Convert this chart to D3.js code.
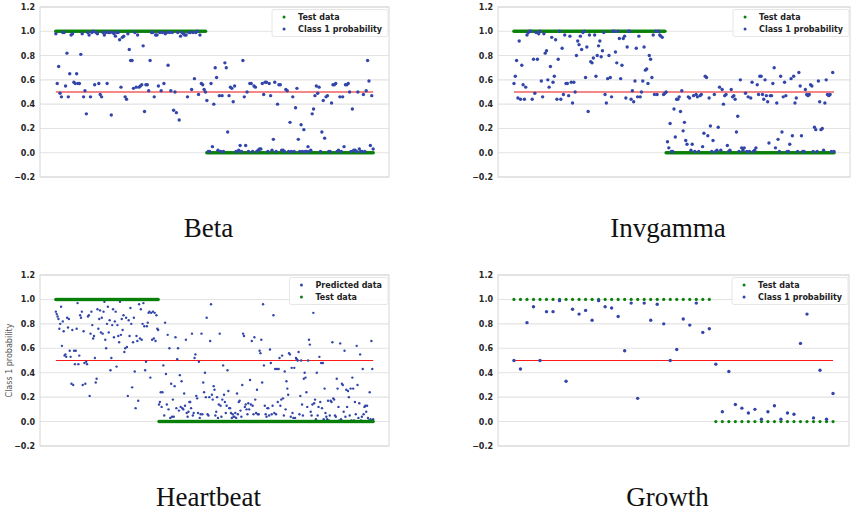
<!DOCTYPE html>
<html>
<head>
<meta charset="utf-8">
<script src="https://cdn.jsdelivr.net/npm/d3@7"></script>
<style>body{margin:0;background:#fff}</style>
</head>
<body>
<script>
// Class 1 probabilities, split into the points whose test label is 1 and those whose label is 0
const betaProb1 = [0.98,0.57,0.71,0.49,0.46,0.99,0.99,0.55,0.82,0.46,0.65,0.97,0.98,0.58,0.57,0.65,0.57,0.57,0.81,0.98,
  0.46,0.51,0.32,0.99,0.97,0.46,0.99,1.0,0.56,0.99,0.98,0.57,0.48,0.46,0.99,0.97,0.99,0.57,0.99,0.99,
  0.31,0.99,0.98,0.96,0.99,0.99,0.93,0.54,0.95,0.96,0.46,0.44,0.98,0.85,0.76,0.76,0.53,0.99,0.54,0.97,
  0.54,0.55,0.56,0.88,0.34,0.56,0.56,0.51,0.76,0.99,0.99,0.46,0.97,0.97,0.55,0.99,0.51,0.99,0.57,0.98,
  0.99,0.72,0.99,0.51,0.99,0.35,0.5,0.33,0.99,0.27,0.96,0.99,0.98,0.97,0.97,0.46,0.99,0.99,0.52,0.99,
  0.61,0.99,1.0,0.48,0.97,0.57,0.56,0.52,0.5];
const betaProb0 = [0.43,0.01,0.01,0.57,0.05,0.40,0.70,0.62,0.02,0.47,0.01,0.47,0.01,0.74,0.70,0.17,0.47,0.54,0.53,0.42,
  0.55,0.01,0.01,0.02,0.06,0.01,0.76,0.46,0.06,0.50,0.01,0.57,0.57,0.01,0.55,0.54,0.01,0.02,0.03,0.03,
  0.57,0.48,0.58,0.58,0.01,0.57,0.47,0.02,0.11,0.58,0.01,0.4,0.56,0.56,0.02,0.02,0.01,0.52,0.51,0.01,
  0.25,0.01,0.46,0.01,0.37,0.53,0.11,0.01,0.23,0.01,0.19,0.01,0.01,0.05,0.01,0.02,0.32,0.36,0.47,0.55,
  0.49,0.54,0.01,0.17,0.43,0.12,0.46,0.47,0.01,0.01,0.41,0.56,0.56,0.57,0.01,0.02,0.46,0.01,0.46,0.05,
  0.56,0.56,0.57,0.50,0.01,0.36,0.02,0.02,0.01,0.5,0.03,0.01,0.01,0.48,0.01,0.51,0.76,0.59,0.06,0.47,0.03];

const invgammaProb1 = [0.57,0.63,0.76,0.45,0.92,0.44,0.72,0.56,0.44,0.54,0.97,0.99,1.0,1.0,0.44,0.77,0.49,0.99,0.77,0.98,
  1.0,0.59,0.46,0.98,0.82,0.84,0.60,0.54,0.71,0.95,0.58,0.63,0.93,0.44,0.77,1.0,0.44,0.86,0.48,0.97,
  0.57,0.57,0.47,0.96,0.58,0.41,0.58,0.50,0.80,0.92,0.89,0.96,0.85,0.99,1.0,0.62,0.87,0.34,0.97,0.75,
  0.74,0.78,0.97,0.63,0.80,0.88,0.92,0.79,0.84,0.99,0.48,0.41,0.61,0.80,0.62,0.46,1.0,1.0,0.83,0.74,
  1.0,0.94,0.61,0.72,0.94,0.96,0.45,0.87,1.0,1.0,0.44,0.51,0.42,0.59,0.86,0.46,0.96,0.46,0.50,0.59,
  0.87,0.68,0.69,0.57,0.80,0.77,0.62,0.97,0.48,1.0,0.48,1.0,0.97,0.96,0.95,0.48,0.49];
const invgammaProb0 = [0.50,0.09,0.04,0.24,0.01,0.01,0.36,0.13,0.44,0.44,0.46,0.34,0.51,0.18,0.25,0.10,0.07,0.46,0.45,0.02,
  0.07,0.47,0.01,0.48,0.46,0.01,0.47,0.48,0.05,0.16,0.63,0.62,0.14,0.45,0.22,0.01,0.10,0.48,0.01,0.02,
  0.21,0.54,0.02,0.52,0.40,0.47,0.48,0.06,0.01,0.02,0.52,0.46,0.47,0.44,0.17,0.30,0.01,0.60,0.04,0.02,
  0.04,0.49,0.01,0.46,0.01,0.45,0.58,0.01,0.02,0.04,0.56,0.48,0.63,0.63,0.48,0.44,0.60,0.47,0.42,0.08,
  0.47,0.47,0.57,0.70,0.04,0.41,0.11,0.01,0.63,0.17,0.46,0.58,0.47,0.01,0.01,0.07,0.61,0.14,0.63,0.41,
  0.45,0.01,0.66,0.55,0.14,0.01,0.01,0.52,0.48,0.47,0.48,0.56,0.55,0.01,0.21,0.19,0.01,0.59,0.42,0.19,
  0.20,0.02,0.41,0.60,0.48,0.47,0.48,0.01,0.66,0.01];

const heartbeatProb1 = [0.90,0.88,0.86,0.84,0.76,0.80,0.94,0.62,0.82,0.74,0.54,0.55,0.53,0.85,0.77,0.84,0.58,0.53,0.31,0.75,
  0.30,0.58,0.47,0.58,0.76,0.97,0.47,0.54,0.87,0.85,0.90,0.30,0.74,0.48,0.31,0.49,0.47,0.86,0.87,0.21,
  0.72,0.90,0.79,0.68,0.70,0.52,0.32,0.35,0.92,0.76,0.84,0.91,0.73,0.85,0.72,0.90,0.98,0.67,0.60,0.80,
  0.94,0.73,0.83,0.42,0.52,0.79,0.92,0.69,0.82,0.90,0.45,0.79,0.70,0.65,0.98,0.71,0.84,0.75,0.87,0.57,
  0.60,0.85,0.61,0.21,0.83,0.70,0.93,0.80,0.28,0.65,0.85,0.41,0.11,0.70,0.66,0.17,0.96,0.68,0.92,0.67,
  0.80,0.97,0.78,0.42,0.49,0.78,0.81,0.89,0.90,0.36,0.89,0.67,0.90,0.68,0.89,0.66,0.87,0.76,0.75];
const heartbeatProb0 = [0.14,0.16,0.24,0.12,0.24,0.46,0.05,0.81,0.39,0.14,0.71,0.10,0.60,0.03,0.31,0.04,0.18,0.04,0.29,0.69,
  0.11,0.51,0.60,0.09,0.38,0.12,0.33,0.11,0.10,0.23,0.13,0.67,0.07,0.04,0.08,0.16,0.16,
  0.11,0.72,0.05,0.07,0.52,0.55,0.21,0.19,0.07,0.49,0.03,0.06,0.72,0.06,0.32,0.24,0.40,0.20,0.85,
  0.06,0.05,0.20,0.66,0.96,0.22,0.18,0.29,0.26,0.05,0.08,0.20,0.03,0.14,0.72,0.13,0.04,
  0.18,0.46,0.22,0.16,0.07,0.13,0.42,0.25,0.11,0.11,0.07,0.03,0.06,0.04,0.04,0.07,0.03,
  0.23,0.06,0.16,0.17,0.09,0.04,0.30,0.72,0.70,0.12,0.14,0.10,0.06,0.15,0.10,0.34,0.14,0.66,0.13,
  0.06,0.69,0.18,0.07,0.26,0.06,0.06,0.58,0.56,0.67,0.32,0.96,0.46,0.13,0.06,
  0.04,0.11,0.11,0.05,0.59,0.48,0.06,0.13,0.87,0.07,0.43,0.06,0.43,0.16,0.43,0.52,
  0.13,0.18,0.54,0.19,0.05,0.41,0.10,0.33,0.27,0.22,0.56,0.55,0.04,0.44,0.07,0.03,0.44,
  0.03,0.52,0.51,0.50,0.57,0.06,0.21,0.50,0.14,0.05,0.35,0.40,0.36,0.24,0.12,0.50,0.67,
  0.63,0.08,0.05,0.14,0.89,0.15,0.18,0.02,0.40,0.05,0.12,0.53,0.16,0.48,0.11,0.48,0.02,0.27,0.07,0.04,
  0.02,0.17,0.01,0.05,0.17,0.16,0.65,0.19,0.18,0.05,0.04,0.35,0.27,0.12,0.01,0.64,0.02,0.31,0.30,
  0.08,0.58,0.04,0.26,0.12,0.25,0.20,0.05,0.27,0.01,0.36,0.27,0.01,0.16,0.06,0.62,0.30,0.03,0.15,0.55,
  0.01,0.04,0.43,0.06,0.12,0.13,0.08,0.13,0.03,0.01,0.24,0.02,0.66,0.43,0.02];

const growthProb1 = [0.50,0.43,0.81,0.94,0.50,0.90,0.90,0.99,0.33,0.92,0.88,0.91,0.83,0.99,0.94,0.93,0.86,0.58,0.97,0.19,
  0.97,0.83,0.96,0.80,0.50,0.59,0.84,0.79,0.97,0.73,0.76];
const growthProb0 = [0.47,0.08,0.41,0.14,0.11,0.07,0.10,0.02,0.08,0.13,0.02,0.07,0.06,0.64,0.88,0.03,0.42,0.02,0.23];

const yTicks = [-0.2, 0.0, 0.2, 0.4, 0.6, 0.8, 1.0, 1.2];
const threshold = 0.5;

const width = 851, height = 516;
const blue = "#3246aa", green = "#0a800a";

const svg = d3.select("body").append("svg")
    .attr("width", width)
    .attr("height", height)
    .style("background", "white");

const panels = [
  {title: "Beta", p1: betaProb1, p0: betaProb0, box: [40, 389, 7, 177], titleY: 237,
   labels: ["Test data", "Class 1 probability"], testFirst: true, r: 1.7, rTest: 1.8, red: "#f06060", redW: 1.6},
  {title: "Invgamma", p1: invgammaProb1, p0: invgammaProb0, box: [498, 850, 7, 177], titleY: 237,
   labels: ["Test data", "Class 1 probability"], testFirst: true, r: 1.7, rTest: 1.8, red: "#f06060", redW: 1.6},
  {title: "Heartbeat", p1: heartbeatProb1, p0: heartbeatProb0, box: [40, 389, 275, 446], titleY: 506,
   labels: ["Predicted data", "Test data"], testFirst: false, r: 1.2, rTest: 1.7, red: "#ff1a1a", redW: 1.1,
   ylabel: "Class 1 probability"},
  {title: "Growth", p1: growthProb1, p0: growthProb0, box: [498, 849, 275, 446], titleY: 506,
   labels: ["Test data", "Class 1 probability"], testFirst: true, r: 1.7, rTest: 1.6, red: "#ff1a1a", redW: 1.1}
];

panels.forEach(p => {
  const [left, right, top, bottom] = p.box;
  const prob = p.p1.concat(p.p0);
  const test = prob.map((d, i) => i < p.p1.length ? 1 : 0);
  const n = prob.length;

  const x = d3.scaleLinear()
      .domain([-0.05 * (n - 1), 1.05 * (n - 1)])
      .range([left, right]);
  const y = d3.scaleLinear()
      .domain([-0.2, 1.2])
      .range([bottom, top]);

  const g = svg.append("g");

  // grid
  g.append("g").selectAll("line")
    .data(yTicks)
    .join("line")
      .attr("x1", left).attr("x2", right)
      .attr("y1", d => y(d)).attr("y2", d => y(d))
      .attr("stroke", "#e3e3e3")
      .attr("stroke-width", 1.1);

  g.append("rect")
      .attr("x", left).attr("y", top)
      .attr("width", right - left).attr("height", bottom - top)
      .attr("fill", "none")
      .attr("stroke", "#d6d6d6");

  const axis = g.append("g")
      .attr("transform", `translate(${left},0)`)
      .call(d3.axisLeft(y).tickValues(yTicks).tickSize(0).tickPadding(5).tickFormat(d3.format(".1f")));
  axis.select(".domain").remove();
  axis.selectAll("text")
      .attr("fill", "#262626")
      .style("font-family", "DejaVu Sans")
      .style("font-weight", "bold")
      .style("font-size", "8px");

  if (p.ylabel) {
    g.append("text")
      .attr("transform", `translate(${left - 28},${(top + bottom) / 2}) rotate(-90)`)
      .attr("text-anchor", "middle")
      .attr("fill", "#555")
      .style("font-family", "DejaVu Sans")
      .style("font-size", "8px")
      .text(p.ylabel);
  }

  // threshold line
  g.append("path")
      .datum([0, n - 1])
      .attr("d", d3.line().x(d => x(d)).y(() => y(threshold)))
      .attr("stroke", p.red)
      .attr("stroke-width", p.redW)
      .attr("fill", "none");

  const drawTest = () => g.append("g").selectAll("circle")
      .data(test)
      .join("circle")
        .attr("cx", (d, i) => x(i))
        .attr("cy", d => y(d))
        .attr("r", p.rTest)
        .attr("fill", green);
  const drawProb = () => g.append("g").selectAll("circle")
      .data(prob)
      .join("circle")
        .attr("cx", (d, i) => x(i))
        .attr("cy", d => y(d))
        .attr("r", p.r)
        .attr("fill", blue);
  if (p.testFirst) { drawTest(); drawProb(); } else { drawProb(); drawTest(); }

  // legend
  const lg = g.append("g");
  const rect = lg.append("rect")
      .attr("fill", "white")
      .attr("fill-opacity", 0.85)
      .attr("stroke", "#e6e6e6")
      .attr("rx", 2);
  const colors = p.testFirst ? [green, blue] : [blue, green];
  const texts = lg.selectAll("text")
      .data(p.labels)
      .join("text")
        .attr("y", (d, i) => top + 13 + i * 12)
        .attr("fill", "#222")
        .style("font-family", "DejaVu Sans")
        .style("font-weight", "bold")
        .style("font-size", "8px")
        .text(d => d);
  const tw = d3.max(texts.nodes(), n => n.getComputedTextLength());
  const tx = right - 7 - tw;
  texts.attr("x", tx);
  lg.selectAll("circle")
    .data(colors)
    .join("circle")
      .attr("cx", tx - 14)
      .attr("cy", (d, i) => top + 10 + i * 12)
      .attr("r", 1.5)
      .attr("fill", d => d);
  rect.attr("x", tx - 26).attr("y", top + 2.5)
      .attr("width", tw + 32).attr("height", 27);

  // title
  g.append("text")
      .attr("x", (left + right) / 2 - 6)
      .attr("y", p.titleY)
      .attr("text-anchor", "middle")
      .attr("fill", "#111")
      .style("font-family", "Liberation Serif")
      .style("font-size", "27px")
      .text(p.title);
});
</script>
</body>
</html>
